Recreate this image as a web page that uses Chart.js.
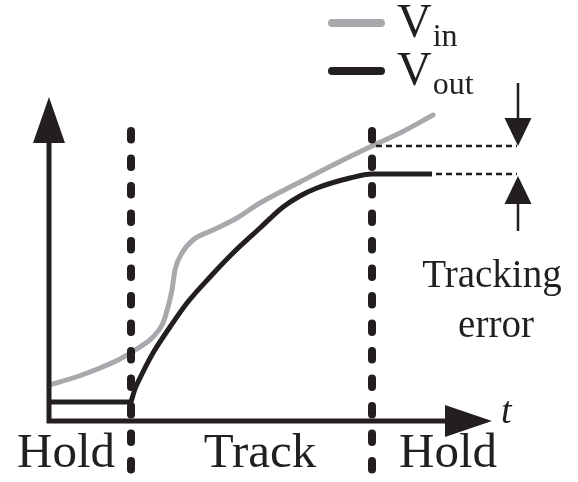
<!DOCTYPE html>
<html>
<head>
<meta charset="utf-8">
<script src="https://cdn.jsdelivr.net/npm/chart.js@4/dist/chart.umd.min.js"></script>
</head>
<body style="margin:0">
<canvas id="chart" width="578" height="482"></canvas>
<script>
// Sketch values, arbitrary units (t across, V up)
const vinT = [0, 3, 5.1, 7.1, 9.1, 10.4, 11.4, 11.9, 12.3, 12.6, 13.3, 14.4, 16.4, 18.8, 21.1, 25.1, 28.4, 32.3, 35.1, 38.4];
const vinV = [3.6, 4.5, 5.3, 6.2, 7.4, 8.4, 9.8, 11.4, 13.1, 15.1, 16.8, 18.1, 19.1, 20.3, 21.8, 23.9, 25.6, 27.5, 28.8, 30.6];

const holdT = [0, 8.2];
const holdV = [1.9, 1.9];

const voutT = [8.2, 8.6, 9.1, 10.4, 12.1, 13.8, 16.1, 18.4, 21.1, 23.4, 25.1, 26.8, 30.1, 32.3, 38.3];
const voutV = [1.9, 3.2, 4.3, 6.8, 9.4, 11.8, 14.4, 16.8, 19.3, 21.4, 22.5, 23.3, 24.3, 24.7, 24.7];

const phaseEdges = [8.2, 32.3];          // track starts, track ends
const phaseLabels = ['Hold', 'Track', 'Hold'];
const legendNames = ['V', 'V'];
const legendSubs = ['in', 'out'];

const GRAY = '#a7a9ac';
const BLACK = '#231f20';

function serif(size, style) {
    return (style ? style + ' ' : '') + size + 'px "Liberation Serif", monospace';
}

function toPoints(xs, ys) {
    return xs.map((x, i) => ({ x: x, y: ys[i] }));
}

// filled triangle, tip at (x, y), pointing along (dx, dy)
function arrowHead(ctx, x, y, dx, dy, len, half) {
    ctx.beginPath();
    ctx.moveTo(x, y);
    ctx.lineTo(x - dx * len - dy * half, y - dy * len + dx * half);
    ctx.lineTo(x - dx * len + dy * half, y - dy * len - dx * half);
    ctx.closePath();
    ctx.fill();
}

const sketchPlugin = {
    id: 'sketch',
    afterDraw(chart) {
        const ctx = chart.ctx;
        const xs = chart.scales.x;
        const ys = chart.scales.y;
        const x0 = xs.getPixelForValue(0);
        const y0 = ys.getPixelForValue(0);

        ctx.save();
        ctx.strokeStyle = BLACK;
        ctx.fillStyle = BLACK;

        // axes with arrow heads
        const yTip = ys.getPixelForValue(32.4);
        const xTip = xs.getPixelForValue(44.3);
        ctx.lineWidth = 5;
        ctx.lineCap = 'butt';
        ctx.lineJoin = 'miter';
        ctx.beginPath();
        ctx.moveTo(x0, yTip + 40);
        ctx.lineTo(x0, y0);
        ctx.lineTo(xTip - 40, y0);
        ctx.stroke();
        arrowHead(ctx, x0, yTip, 0, -1, 46, 16);
        arrowHead(ctx, xTip, y0, 1, 0, 47, 16);

        // dashed phase boundaries
        ctx.lineWidth = 8;
        ctx.lineCap = 'round';
        ctx.setLineDash([8.5, 19]);
        phaseEdges.forEach(t => {
            const px = xs.getPixelForValue(t);
            ctx.beginPath();
            ctx.moveTo(px, 131);
            ctx.lineTo(px, 490);
            ctx.stroke();
        });

        // dotted tracking-error guides
        const tEnd = phaseEdges[1];
        const px = xs.getPixelForValue(tEnd);
        const yIn = ys.getPixelForValue(vinV[vinT.indexOf(tEnd)]);
        const yOut = ys.getPixelForValue(voutV[voutT.indexOf(tEnd)]);
        const guideEnd = xs.getPixelForValue(46.8);
        ctx.lineWidth = 2.5;
        ctx.lineCap = 'butt';
        ctx.setLineDash([6, 4]);
        [yIn, yOut].forEach(py => {
            ctx.beginPath();
            ctx.moveTo(px + 4, py);
            ctx.lineTo(guideEnd, py);
            ctx.stroke();
        });
        ctx.setLineDash([]);

        // tracking-error arrows
        const ax = xs.getPixelForValue(46.9);
        ctx.lineWidth = 2.5;
        ctx.beginPath();
        ctx.moveTo(ax, yIn - 63);
        ctx.lineTo(ax, yIn - 20);
        ctx.moveTo(ax, yOut + 20);
        ctx.lineTo(ax, yOut + 57);
        ctx.stroke();
        arrowHead(ctx, ax, yIn, 0, 1, 28, 13.5);
        arrowHead(ctx, ax, yOut + 2, 0, -1, 28, 13.5);

        // legend
        const legendY = [23, 71];
        const legendColors = [GRAY, BLACK];
        ctx.lineWidth = 8;
        ctx.lineCap = 'round';
        legendY.forEach((ly, i) => {
            ctx.strokeStyle = legendColors[i];
            ctx.beginPath();
            ctx.moveTo(332, ly);
            ctx.lineTo(381, ly);
            ctx.stroke();
            ctx.fillStyle = BLACK;
            ctx.textAlign = 'left';
            ctx.textBaseline = 'alphabetic';
            ctx.font = serif(48);
            ctx.fillText(legendNames[i], 397, ly + 14);
            const w = ctx.measureText(legendNames[i]).width;
            ctx.font = serif(32);
            ctx.fillText(legendSubs[i], 397 + w + 1, ly + 23);
        });

        // text labels
        ctx.fillStyle = BLACK;
        ctx.textAlign = 'center';
        ctx.font = serif(49);
        const labelX = [66, 260, 448];
        phaseLabels.forEach((s, i) => ctx.fillText(s, labelX[i], 467));

        ctx.font = serif(39);
        ctx.fillText('Tracking', 492, 287);
        ctx.fillText('error', 496, 337);

        ctx.textAlign = 'left';
        ctx.font = serif(38, 'italic');
        ctx.fillText('t', 501, 423);

        ctx.restore();
    }
};

const lineStyle = {
    showLine: true,
    pointRadius: 0,
    borderWidth: 5,
    fill: false,
    clip: false,
    cubicInterpolationMode: 'monotone'
};

new Chart(document.getElementById('chart'), {
    type: 'scatter',
    data: {
        datasets: [
            Object.assign({ label: 'Vin', data: toPoints(vinT, vinV), borderColor: GRAY, borderCapStyle: 'round' }, lineStyle),
            Object.assign({ label: 'Vout hold', data: toPoints(holdT, holdV), borderColor: BLACK }, lineStyle),
            Object.assign({ label: 'Vout', data: toPoints(voutT, voutV), borderColor: BLACK }, lineStyle)
        ]
    },
    options: {
        responsive: false,
        animation: false,
        devicePixelRatio: 1,
        layout: { padding: { left: 49, right: 89, top: 101, bottom: 61 } },
        scales: {
            x: { type: 'linear', min: 0, max: 44, display: false },
            y: { type: 'linear', min: 0, max: 32, display: false }
        },
        plugins: {
            legend: { display: false },
            tooltip: { enabled: false }
        }
    },
    plugins: [sketchPlugin]
});
</script>
</body>
</html>
